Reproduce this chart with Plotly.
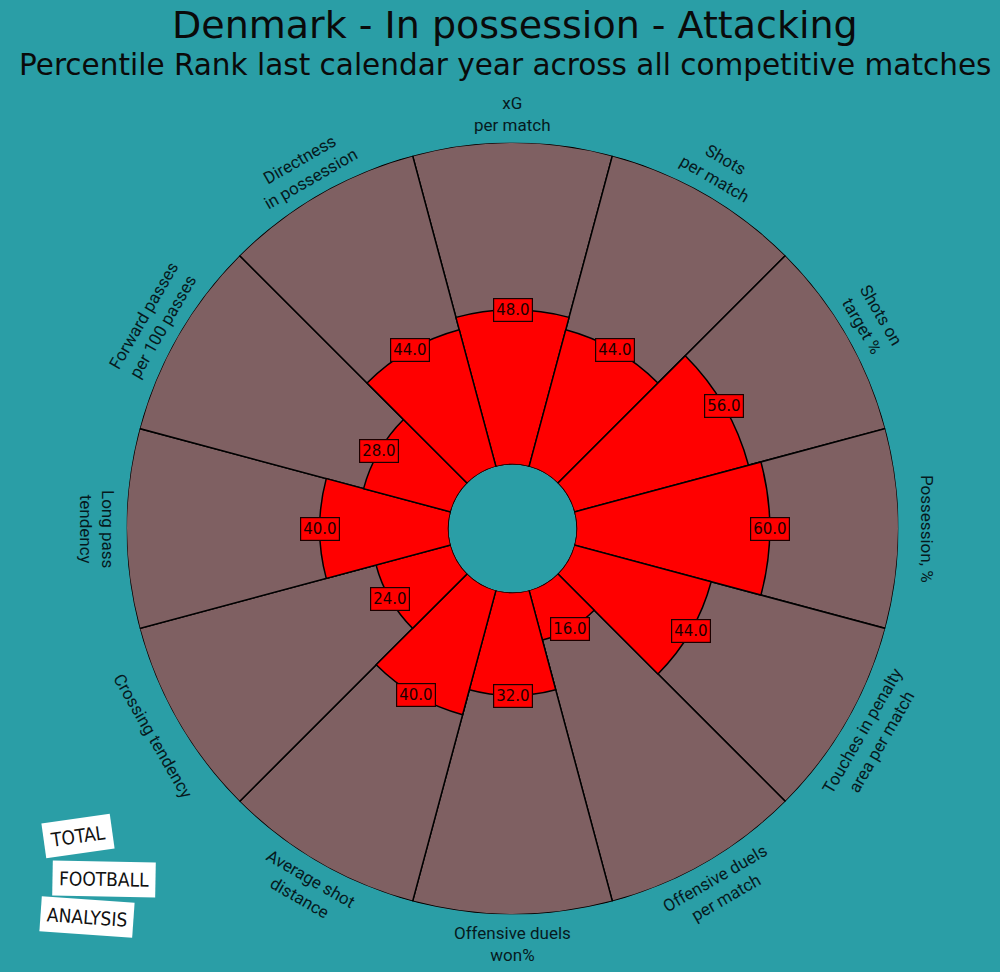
import math
import plotly.graph_objects as go

params = ["xG\nper match", "Shots\nper match", "Shots on\ntarget %", "Possession, %",
          "Touches in penalty\narea per match", "Offensive duels\nper match",
          "Offensive duels\nwon%", "Average shot\ndistance", "Crossing tendency",
          "Long pass\ntendency", "Forward passes\nper 100 passes", "Directness\nin possession"]
values = [48, 44, 56, 60, 44, 16, 32, 40, 24, 40, 28, 44]

BG = "#2a9ea6"
SLICE_BG = "#7f6062"
RED = "#ff0000"

W, H = 1000, 972
CX, CY, R = 512.5, 528.5, 386.0
HOLE = 64.0

n = len(params)
step = 360.0 / n
thetas = [i * step for i in range(n)]

fig = go.Figure()
fig.add_trace(go.Barpolar(r=[100] * n, theta=thetas, width=[step] * n,
                          marker=dict(color=SLICE_BG, line=dict(color="black", width=1.5)),
                          hoverinfo="skip", showlegend=False))
fig.add_trace(go.Barpolar(r=values, theta=thetas, width=[step] * n,
                          marker=dict(color=RED, line=dict(color="black", width=1.5)),
                          hoverinfo="skip", showlegend=False))

annotations = []
for th, v, p in zip(thetas, values, params):
    ang = math.radians(90 - th)
    rp = HOLE + (R - HOLE) * v / 100.0
    px = CX + rp * math.cos(ang)
    py = CY - rp * math.sin(ang)
    annotations.append(dict(x=px / W, y=1 - py / H, xref="paper", yref="paper",
                            text=f"{v:.1f}", showarrow=False,
                            font=dict(family="DejaVu Sans", size=15, color="#1a0000"),
                            bgcolor=RED, bordercolor="#1a0000", borderwidth=1.2, borderpad=2,
                            xanchor="center", yanchor="middle"))
    # parameter labels
    md = 90 - th  # math degrees
    md = (md + 180) % 360 - 180
    rl = R + 29
    lx = CX + rl * math.cos(math.radians(md))
    ly = CY - rl * math.sin(math.radians(md))
    if -180 < md < 0:
        ta = -90 - md
    else:
        ta = 90 - md
        if ta > 90:
            ta -= 180
    annotations.append(dict(x=lx / W, y=1 - ly / H, xref="paper", yref="paper",
                            text=p.replace("\n", "<br>"), showarrow=False, textangle=ta,
                            font=dict(family="Roboto", size=17, color="#061a1e"),
                            xanchor="center", yanchor="middle"))

annotations.append(dict(x=0.515, y=1 - 25 / H, xref="paper", yref="paper",
                        text="Denmark - In possession - Attacking", showarrow=False,
                        font=dict(family="DejaVu Sans", size=38, color="#0a0a0a"),
                        xanchor="center", yanchor="middle"))
annotations.append(dict(x=0.505, y=1 - 65 / H, xref="paper", yref="paper",
                        text="Percentile Rank last calendar year across all competitive matches",
                        showarrow=False,
                        font=dict(family="DejaVu Sans", size=29.5, color="#0a0a0a"),
                        xanchor="center", yanchor="middle"))

# logo
logo = [("TOTAL", 78, 836, -8), ("FOOTBALL", 104, 879, 1), ("ANALYSIS", 87, 917, 4)]
for txt, lx, ly, ang in logo:
    annotations.append(dict(x=lx / W, y=1 - ly / H, xref="paper", yref="paper",
                            text=txt, showarrow=False, textangle=ang,
                            font=dict(family="DejaVu Sans Condensed", size=19, color="#111111"),
                            bgcolor="white", borderpad=6,
                            xanchor="center", yanchor="middle"))

fig.update_layout(
    width=W, height=H, autosize=False,
    margin=dict(l=0, r=0, t=0, b=0),
    paper_bgcolor=BG, plot_bgcolor=BG,
    polar=dict(
        domain=dict(x=[(CX - R) / W, (CX + R) / W], y=[1 - (CY + R) / H, 1 - (CY - R) / H]),
        hole=HOLE / R,
        bgcolor=BG,
        bargap=0,
        barmode="overlay",
        radialaxis=dict(range=[0, 100], visible=False, showgrid=False),
        angularaxis=dict(rotation=90, direction="clockwise", visible=False,
                         showgrid=False, showline=False, ticks=""),
    ),
    annotations=annotations,
)

fig.write_html("out.html")
